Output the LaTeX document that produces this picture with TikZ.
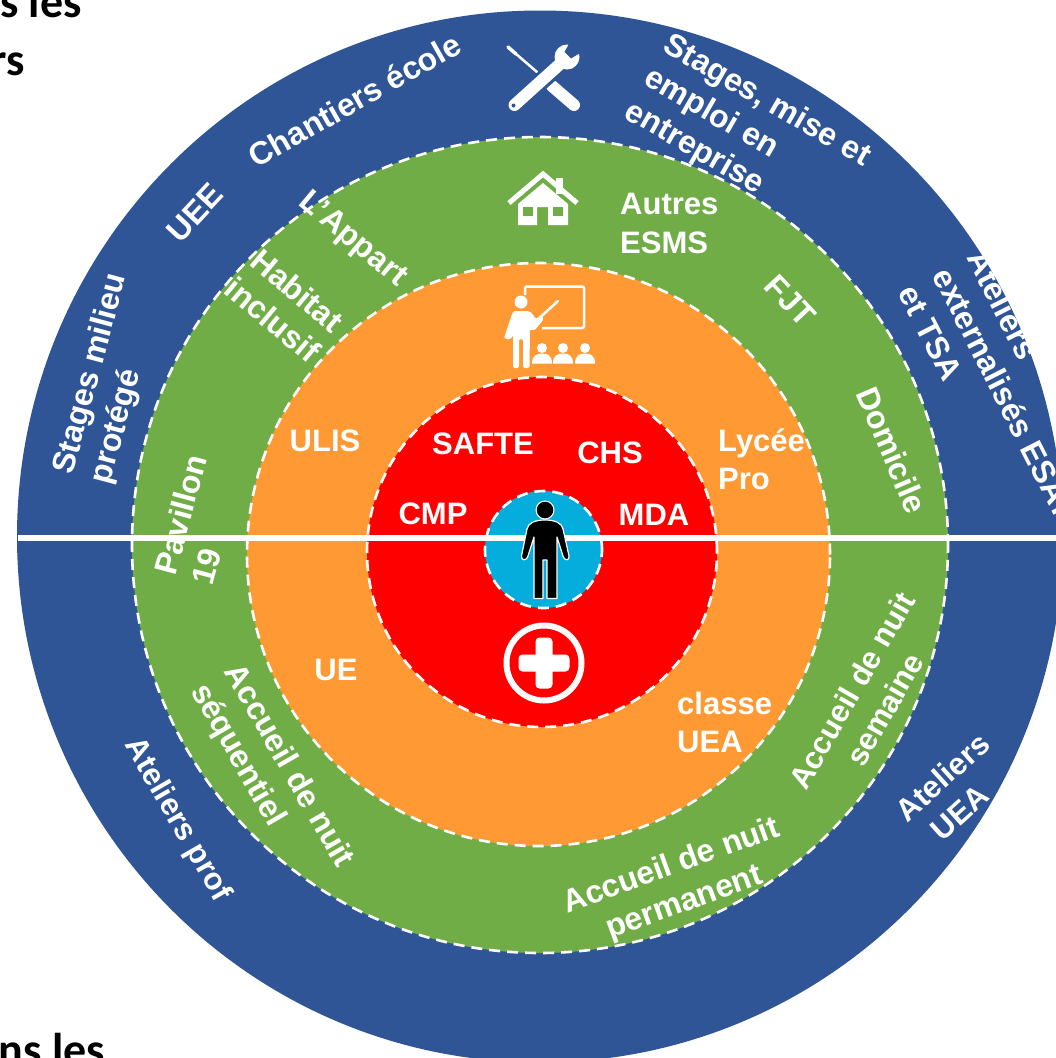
\documentclass[tikz,border=0pt]{standalone}
\usepackage{fontspec}
\setmainfont{Liberation Sans}
\newfontfamily\captionfont{Carlito}
\definecolor{ringblue}{HTML}{2F5597}
\definecolor{ringgreen}{HTML}{70AD47}
\definecolor{ringorange}{HTML}{FF9933}
\definecolor{ringred}{HTML}{FF0000}
\definecolor{ringcyan}{HTML}{05ADDC}
\tikzset{
  ring/.style={draw=white,line width=2.6pt,dash pattern=on 11pt off 7pt},
  lbl/.style={text=white,font=\fontsize{31}{38}\selectfont\bfseries,align=center,inner sep=0pt},
  lbll/.style={lbl,align=left},
  rlbl/.style={text=white,font=\fontsize{32}{38.5}\selectfont\bfseries,align=center,inner sep=0pt},
  rlbll/.style={rlbl,align=left,anchor=north west},
  pagetext/.style={text=black,font=\fontsize{46}{50}\selectfont\bfseries\captionfont,anchor=base east,inner sep=0pt}
}
\begin{document}
\begin{tikzpicture}[x=1pt,y=-1pt]
\useasboundingbox (0,0) rectangle (1056,1058);
\clip (0,0) rectangle (1056,1058);
\fill[white] (0,0) rectangle (1056,1058);
% rings
\fill[ringblue] (540,536.5) ellipse[x radius=523pt,y radius=526pt];
\fill[ringgreen] (540,545) circle[radius=408pt];
\draw[ring] (540,545) circle[radius=408pt];
\fill[ringorange] (538.5,554.5) circle[radius=291.5pt];
\draw[ring] (538.5,554.5) circle[radius=291.5pt];
\fill[ringred] (542,552) circle[radius=175pt];
\draw[ring] (542,552) circle[radius=175pt];
\fill[ringcyan] (543.5,549.5) circle[radius=58.5pt];
\draw[ring] (543.5,549.5) circle[radius=58.5pt];
% axis
\coordinate (axisL) at (18,537.5);
\coordinate (axisR) at (1056,537.5);
\draw[white,line width=6pt] (axisL) -- (axisR);
% person
\fill[white] (545,510) circle[radius=9.5pt];
\fill[black] (545,510) circle[radius=8.3pt];
\draw[white,line width=1.2pt,fill=black,line join=round]
  (545,520) .. controls (535,520) and (528,523) .. (527,529)
  -- (521.5,556) .. controls (521,561) and (527,561) .. (528,556)
  -- (534,537) -- (534,598.5) -- (543,598.5) -- (543,560) -- (547,560) -- (547,598.5) -- (557,598.5) -- (557,537)
  -- (563,556) .. controls (564,561) and (570,561) .. (569,556)
  -- (563,529) .. controls (562,523) and (555,520) .. (545,520) -- cycle;
% medical
\draw[white,line width=6pt] (544,663) circle[radius=37.5pt];
\fill[white,rounded corners=4pt] (535.5,637.5) rectangle (552.5,688.5);
\fill[white,rounded corners=4pt] (518.5,654.5) rectangle (569.5,671.5);
% tools
\draw[white,line width=2.5pt,line cap=round] (508,47) -- (537,72);
\draw[white,line width=3.5pt,line cap=round] (508,47) -- (516,54);
\draw[white,line width=12pt,line cap=round] (552,86) -- (574,105);
\draw[ringblue,line width=18pt] (522,98) -- (556,68);
\draw[white,line width=12pt,line cap=round] (514.5,105) -- (560,64);
\fill[white] (567,57) circle[radius=12.5pt];
\fill[ringblue] (570,42) -- (585,50) -- (571,58.5) -- (564.5,52) -- cycle;
\fill[ringblue] (513.5,105.5) circle[radius=2pt];
% house
\draw[white,line width=5pt,line join=miter] (509,203) -- (543,174) -- (577,203);
\fill[white] (556,178) rectangle (563,194);
\fill[white] (518,225) -- (518,204) -- (543,183) -- (568,204) -- (568,225) -- (548,225) -- (548,207) -- (537,207) -- (537,225) -- cycle;
\fill[ringgreen] (523,207) rectangle (533,216);
\fill[ringgreen] (553,207) rectangle (563,216);
% teacher
\fill[white] (521,302) circle[radius=6.5pt];
\draw[white,line width=2.5pt,rounded corners=2pt] (525,295) -- (525,286.5) -- (584,286.5) -- (584,328) -- (542,328);
\draw[white,line width=2.5pt,line cap=round] (535,322) -- (558,301);
\fill[white,rounded corners=2pt] (513,311) -- (530,311) -- (536,319) -- (541,315) -- (544,319) -- (534,331) -- (530,329) -- (529.5,368) -- (523,368) -- (523,339) -- (519,339) -- (519,368) -- (513,368) -- (513,335) -- (510,340) -- (504,338) -- cycle;
\foreach \hx in {542,563,585}{
  \fill[white] (\hx,348) circle[radius=5pt];
  \fill[white] (\hx-10,363.5) .. controls (\hx-10,355) and (\hx-5,353.5) .. (\hx,353.5) .. controls (\hx+5,353.5) and (\hx+10,355) .. (\hx+10,363.5) -- cycle;
}
% labels
\node[rlbl,rotate=29.5] (chantiers) at (354.5,100) {Chantiers école};
\node[rlbl,rotate=47] (uee) at (195,213) {UEE};
\node[rlbll,rotate=-30] (stages) at (673,30) {Stages, mise et\\emploi en\\entreprise};
\node[rlbll,rotate=-63] (esat) at (987,247) {Ateliers\\externalisés ESAT\\et TSA};
\node[rlbll,rotate=75] (milieu) at (50,470) {Stages milieu\\protégé};
\node[rlbl,rotate=-40] (appart) at (352.5,240) {L’Appart};
\node[rlbl,rotate=-40] (habitat) at (285,305) {Habitat\\inclusif};
\node[lbll,anchor=west] (esms) at (620,223) {Autres\\[1pt]ESMS};
\node[rlbl,rotate=-47] (fjt) at (790,301) {FJT};
\node[rlbl,rotate=-67] (domicile) at (892,450) {Domicile};
\node[lbl] (ulis) at (325,441) {ULIS};
\node[lbll,anchor=west] (lycee) at (718,459) {Lycée\\Pro};
\node[lbl] (safte) at (483,444) {SAFTE};
\node[lbl] (chs) at (610,453) {CHS};
\node[lbl] (cmp) at (433,514) {CMP};
\node[lbl] (mda) at (654,515) {MDA};
\node[lbl] (ue) at (336,670) {UE};
\node[lbll,anchor=west] (classe) at (677,722) {classe\\UEA};
\node[rlbll,rotate=75] (pavillon) at (153,571) {Pavillon\\19};
\node[rlbll,rotate=-60] (sequentiel) at (244,660) {Accueil de nuit\\séquentiel};
\node[rlbl,rotate=20] (permanent) at (678,885) {Accueil de nuit\\permanent};
\node[lbl,rotate=60] (semaine) at (868,700) {Accueil de nuit\\semaine};
\node[lbl,rotate=42] (uea) at (955,791) {Ateliers\\UEA\hspace*{22pt}};
\node[lbl,rotate=-60] (prof) at (177,820) {Ateliers prof};
% cropped page text
\node[pagetext] (c1) at (82,17) {s les};
\node[pagetext] (c2) at (25,75) {rs};
\node[pagetext] (c3) at (105,1065) {ns les};
\end{tikzpicture}
\end{document}
